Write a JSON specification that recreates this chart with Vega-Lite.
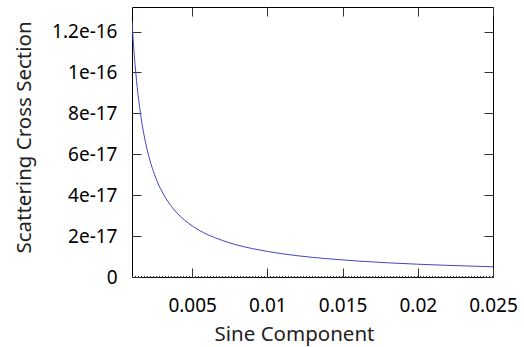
{
  "$schema": "https://vega.github.io/schema/vega-lite/v6.json",
  "autosize": "none",
  "width": 361,
  "height": 270,
  "padding": {"left": 132, "top": 7, "right": 31, "bottom": 70},
  "background": "white",
  "config": {
    "view": {"stroke": "black", "strokeWidth": 1},
    "axis": {
      "domain": false,
      "grid": false,
      "tickSize": -9,
      "tickColor": "#333333",
      "tickWidth": 1,
      "labelFlush": false,
      "labelOverlap": false,
      "labelFont": "Noto Sans",
      "labelFontSize": 19,
      "labelColor": "black",
      "titleFont": "Noto Sans",
      "titleFontSize": 20.5,
      "titleFontWeight": "normal",
      "titleColor": "#222222"
    }
  },
  "data": {
    "values": [
      {"x": 0.001, "y": 1.25e-16},
      {"x": 0.0011, "y": 1.136e-16},
      {"x": 0.0012, "y": 1.042e-16},
      {"x": 0.0013, "y": 9.62e-17},
      {"x": 0.0014, "y": 8.93e-17},
      {"x": 0.0015, "y": 8.33e-17},
      {"x": 0.0016, "y": 7.81e-17},
      {"x": 0.0018, "y": 6.94e-17},
      {"x": 0.002, "y": 6.25e-17},
      {"x": 0.0022, "y": 5.68e-17},
      {"x": 0.0025, "y": 5.0e-17},
      {"x": 0.0028, "y": 4.46e-17},
      {"x": 0.003, "y": 4.17e-17},
      {"x": 0.0035, "y": 3.57e-17},
      {"x": 0.004, "y": 3.125e-17},
      {"x": 0.0045, "y": 2.78e-17},
      {"x": 0.005, "y": 2.5e-17},
      {"x": 0.006, "y": 2.08e-17},
      {"x": 0.007, "y": 1.79e-17},
      {"x": 0.008, "y": 1.56e-17},
      {"x": 0.009, "y": 1.39e-17},
      {"x": 0.01, "y": 1.25e-17},
      {"x": 0.012, "y": 1.04e-17},
      {"x": 0.014, "y": 8.93e-18},
      {"x": 0.016, "y": 7.81e-18},
      {"x": 0.018, "y": 6.94e-18},
      {"x": 0.02, "y": 6.25e-18},
      {"x": 0.022, "y": 5.68e-18},
      {"x": 0.025, "y": 5.0e-18}
    ]
  },
  "layer": [
    {
      "mark": {"type": "rule", "stroke": "#333333", "strokeWidth": 1, "strokeDash": [1, 2]},
      "encoding": {
        "y": {"datum": 0, "type": "quantitative", "axis": null}
      }
    },
    {
      "mark": {"type": "line", "stroke": "#4545c4", "strokeWidth": 1, "interpolate": "monotone", "clip": true},
      "encoding": {
        "x": {
          "field": "x", "type": "quantitative",
          "scale": {"domain": [0.001, 0.025], "nice": false, "zero": false},
          "axis": {
            "orient": "bottom",
            "values": [0.005, 0.01, 0.015, 0.02, 0.025],
            "format": "~g",
            "labelFont": "Noto Sans",
            "labelFontSize": 19,
            "labelPadding": 28,
            "title": "Sine Component",
            "titleX": 162,
            "titleY": 57,
            "titleBaseline": "middle"
          }
        },
        "y": {
          "field": "y", "type": "quantitative",
          "scale": {"domain": [0, 1.32e-16], "nice": false},
          "axis": {
            "orient": "left",
            "values": [0, 2e-17, 4e-17, 6e-17, 8e-17, 1e-16, 1.2e-16],
            "labelExpr": "datum.value == 0 ? '0' : format(datum.value, '~e')",
            "labelFont": "Noto Sans",
            "labelFontSize": 19,
            "labelPadding": 24,
            "title": "Scattering Cross Section",
            "titleX": -108,
            "titleY": 130,
            "titleBaseline": "middle",
            "titleAlign": "center",
            "titleAngle": -90
          }
        }
      }
    },
    {
      "mark": {"type": "line", "opacity": 0},
      "encoding": {
        "x": {
          "field": "x", "type": "quantitative",
          "axis": {"orient": "top", "values": [0.005, 0.01, 0.015, 0.02, 0.025], "labels": false, "title": null}
        },
        "y": {
          "field": "y", "type": "quantitative",
          "axis": {"orient": "right", "values": [0, 2e-17, 4e-17, 6e-17, 8e-17, 1e-16, 1.2e-16], "labels": false, "title": null}
        }
      }
    }
  ],
  "resolve": {"axis": {"x": "independent", "y": "independent"}}
}
